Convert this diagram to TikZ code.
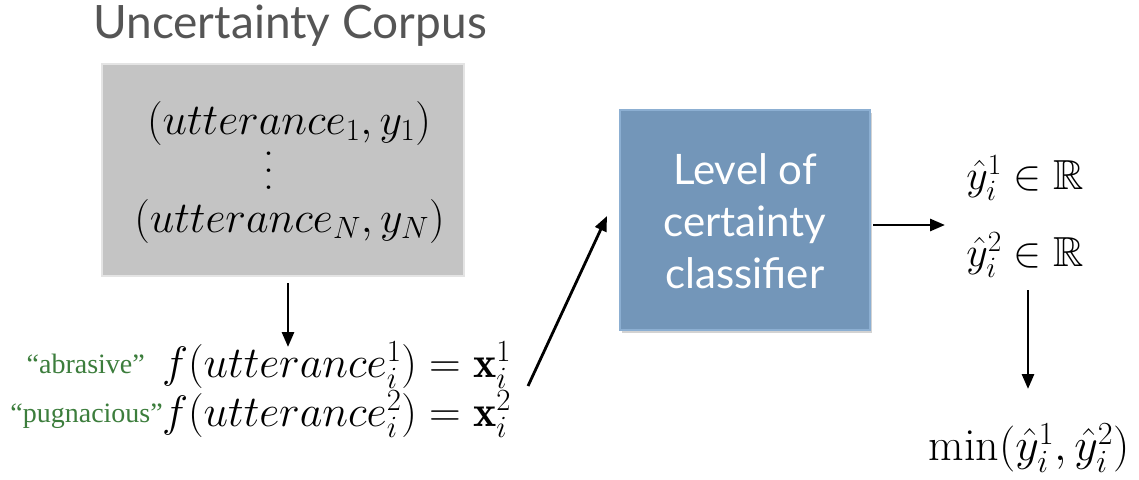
\RequirePackage{fix-cm}
\documentclass[tikz,border=0pt]{standalone}
\usepackage{amsmath,amssymb}
\DeclareFontFamily{U}{msb}{}
\DeclareFontShape{U}{msb}{m}{n}{<->msbm10}{}
\usepackage{fontspec}
\newfontfamily\gill{Lato}
\newfontfamily\tms{Liberation Serif}
\usetikzlibrary{arrows.meta,shadows}
\definecolor{titlegray}{RGB}{85,85,85}
\definecolor{boxgray}{RGB}{196,196,196}
\definecolor{boxgrayline}{RGB}{228,228,228}
\definecolor{clsblue}{RGB}{115,150,185}
\definecolor{clsblueline}{RGB}{140,175,210}
\definecolor{wordgreen}{RGB}{60,125,60}
\newcommand{\bigvdots}{\vbox{\baselineskip=17pt\lineskiplimit=0pt\hbox{.}\hbox{.}\hbox{.}}}
\begin{document}
\begin{tikzpicture}[x=1pt,y=-1pt,
  mathtxt/.style={inner sep=0pt,font=\fontsize{44}{52}\selectfont},
  wordtxt/.style={inner sep=0pt,text=wordgreen,font=\tms\fontsize{28}{32}\selectfont},
  arr/.style={line width=2.8pt,-{Triangle[length=15pt,width=12pt]}}]
\useasboundingbox (0,0) rectangle (1139,479);
\node[inner sep=0pt,anchor=base,text=titlegray,font=\gill\fontsize{46}{50}\selectfont] (title) at (290,38) {Uncertainty Corpus};
\node[draw=boxgrayline,fill=boxgray,line width=2pt,minimum width=362pt,minimum height=212pt,inner sep=0pt] (corpus) at (283,170) {};
\node[mathtxt] (u1) at (289,123) {$(utterance_1,y_1)$};
\node[mathtxt,anchor=base] (dots) at (269,189) {\bigvdots};
\node[mathtxt] (uN) at (289.5,221) {$(utterance_N,y_N)$};
\node[mathtxt,anchor=base west] (f1) at (162,377) {$f(utterance^1_i)=\mathbf{x}^1_i$};
\node[mathtxt,anchor=base west] (f2) at (162,426) {$f(utterance^2_i)=\mathbf{x}^2_i$};
\node[wordtxt,anchor=base east] (w1) at (145,373) {“abrasive”};
\node[wordtxt,anchor=base east] (w2) at (163,422) {“pugnacious”};
\node[draw=clsblueline,fill=clsblue,line width=1.5pt,minimum width=250pt,minimum height=220pt,inner sep=0pt,
  drop shadow={opacity=0.35,shadow xshift=2pt,shadow yshift=-3pt}] (cls) at (745,220) {};
\node[text=white,align=center,inner sep=0pt,font=\gill\fontsize{42}{52}\selectfont] (clstxt) at (745,221) {Level of\\certainty\\classifier};
\node[mathtxt,font=\fontsize{42}{50}\selectfont] (y1) at (1025,178) {$\hat{y}^1_i\in\mathbb{R}$};
\node[mathtxt,font=\fontsize{42}{50}\selectfont] (y2) at (1025,255) {$\hat{y}^2_i\in\mathbb{R}$};
\node[mathtxt,font=\fontsize{46}{54}\selectfont] (mn) at (1029,448) {$\min(\hat{y}^1_i,\hat{y}^2_i)$};
\coordinate (a1s) at (288,283);
\coordinate (a1e) at (288,347);
\coordinate (a2s) at (528,386);
\coordinate (a2e) at (607,216);
\coordinate (a3s) at (873,225);
\coordinate (a3e) at (945,225);
\coordinate (a4s) at (1028,290);
\coordinate (a4e) at (1028,389);
\draw[arr] (a1s) -- (a1e);
\draw[arr] (a2s) -- (a2e);
\draw[arr] (a3s) -- (a3e);
\draw[arr] (a4s) -- (a4e);
\end{tikzpicture}
\end{document}
